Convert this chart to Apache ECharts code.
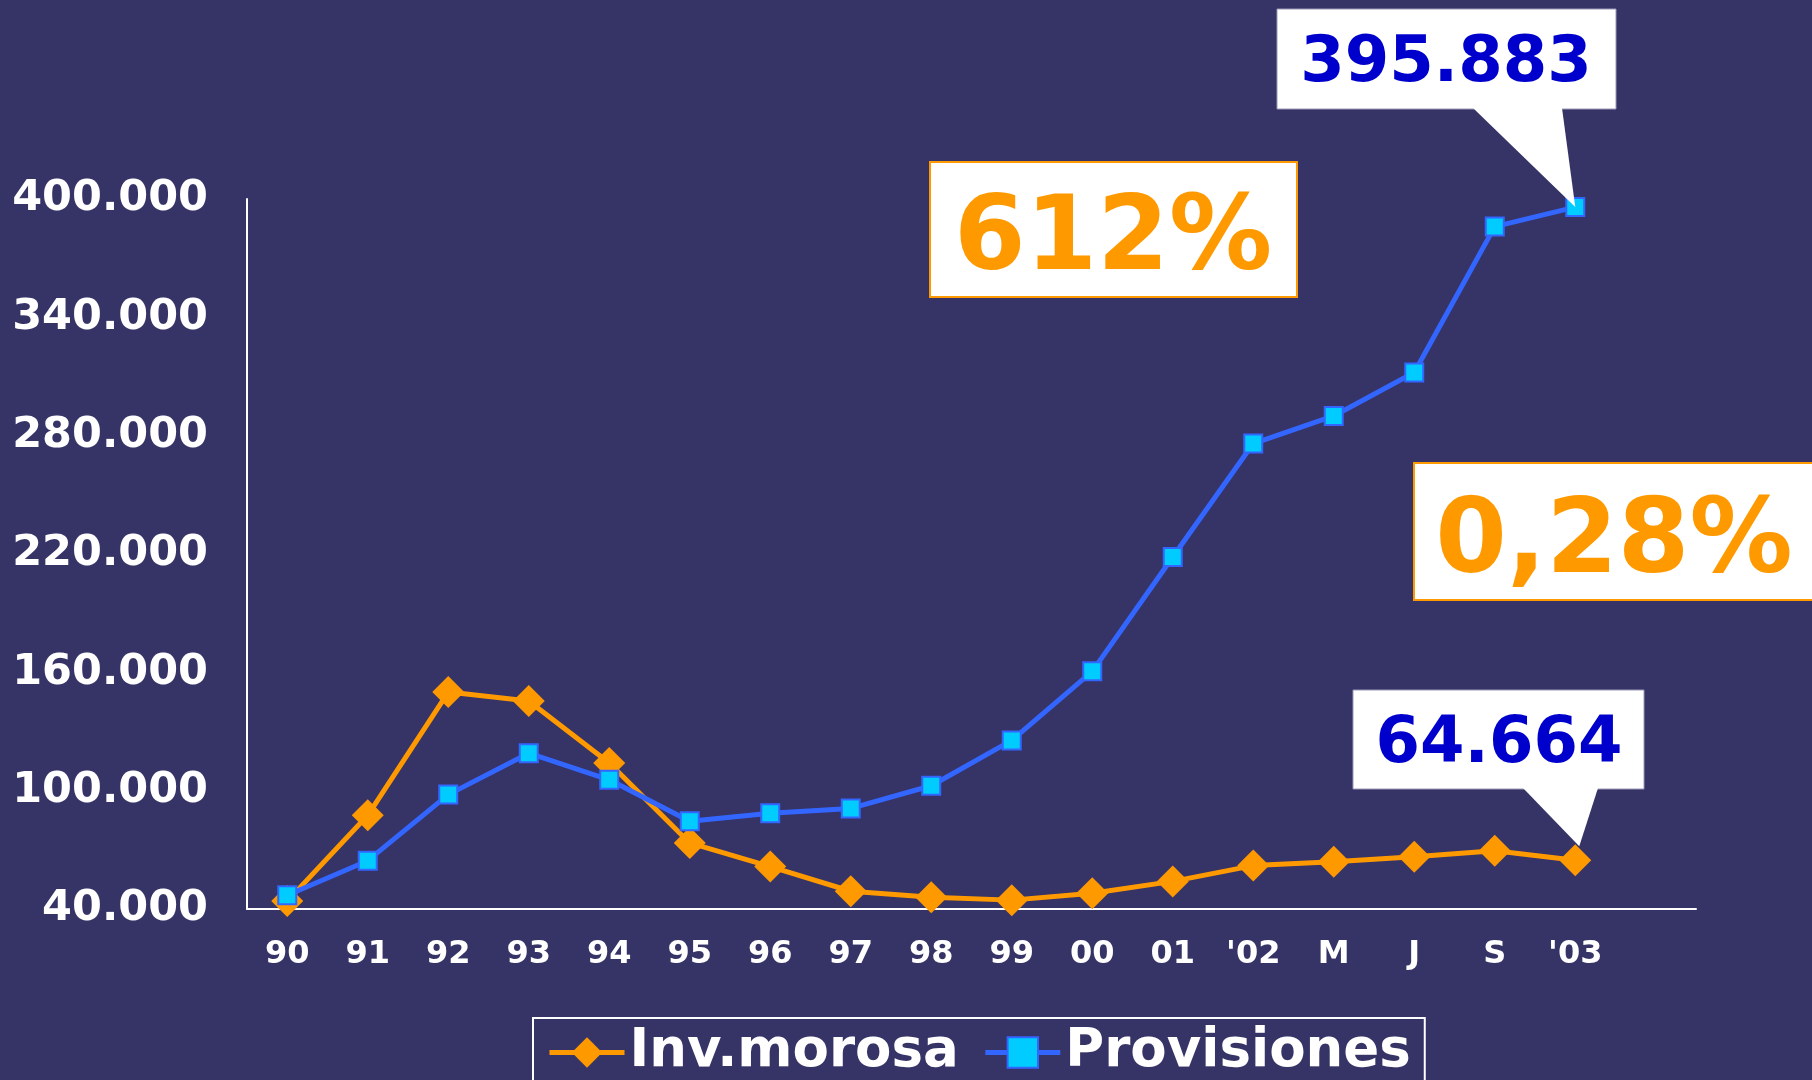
<!DOCTYPE html>
<html>
<head>
<meta charset="utf-8">
<script src="https://cdn.jsdelivr.net/npm/echarts@6/dist/echarts.min.js"></script>
<style>
html, body { margin: 0; padding: 0; background: #363366; }
#chart { width: 1812px; height: 1080px; }
</style>
</head>
<body>
<div id="chart"></div>
<script>
// categories (last one is an empty slot, the axis runs one band past '03)
var categories = ['90', '91', '92', '93', '94', '95', '96', '97', '98', '99', '00', '01', "'02", 'M', 'J', 'S', "'03", ''];
var morosa = [44000, 87500, 150000, 145500, 114000, 73500, 61500, 49000, 46000, 44500, 48000, 54000, 62000, 64000, 66500, 69500, 64664];
var provisiones = [47000, 64500, 98000, 119000, 105500, 84500, 88500, 91000, 102500, 125500, 160500, 218500, 276000, 290000, 312000, 386000, 395883];
var yMin = 40000, yMax = 400000, yStep = 60000;
var seriesNames = ['Inv.morosa', 'Provisiones'];
var calloutTexts = ['395.883', '612%', '0,28%', '64.664'];

var orange = '#FF9900', blue = '#3366FF', cyan = '#00CCFF', navy = '#0000CC';
var font = 'DejaVu Sans';

function fmtThousands(v) {
    return String(v).replace(/\B(?=(\d{3})+(?!\d))/g, '.');
}

var myChart = echarts.init(document.getElementById('chart'));

var option = {
    backgroundColor: '#363366',
    animation: false,
    grid: {
        left: 247,
        right: 116,
        top: 199,
        bottom: 171,
        containLabel: false
    },
    legend: {
        left: 533,
        top: 1018,
        padding: [8, 14, 40, 14],
        borderColor: '#ffffff',
        borderWidth: 2,
        itemWidth: 75,
        itemHeight: 38,
        itemGap: 24,
        lineStyle: { width: 5 },
        textStyle: {
            color: '#ffffff',
            fontSize: 53,
            fontWeight: 'bold',
            fontFamily: font
        },
        data: seriesNames
    },
    xAxis: {
        type: 'category',
        boundaryGap: true,
        data: categories,
        axisLine: { show: true, lineStyle: { color: '#ffffff', width: 2 } },
        axisTick: { show: false },
        splitLine: { show: false },
        axisLabel: {
            interval: 0,
            margin: 30,
            color: '#ffffff',
            fontSize: 32,
            fontWeight: 'bold',
            fontFamily: font
        }
    },
    yAxis: {
        type: 'value',
        min: yMin,
        max: yMax,
        interval: yStep,
        axisLine: { show: true, lineStyle: { color: '#ffffff', width: 2 } },
        axisTick: { show: false },
        splitLine: { show: false },
        axisLabel: {
            margin: 39,
            color: '#ffffff',
            fontSize: 43,
            fontWeight: 'bold',
            fontFamily: font,
            formatter: fmtThousands
        }
    },
    series: [
        {
            name: seriesNames[0],
            type: 'line',
            data: morosa,
            symbol: 'diamond',
            symbolSize: 32,
            lineStyle: { color: orange, width: 5 },
            itemStyle: { color: orange }
        },
        {
            name: seriesNames[1],
            type: 'line',
            data: provisiones,
            symbol: 'rect',
            symbolSize: 18,
            lineStyle: { color: blue, width: 5 },
            itemStyle: { color: cyan, borderColor: blue, borderWidth: 2 }
        }
    ]
};

myChart.setOption(option);

// callouts: pointers aim at the last data points
var last = provisiones.length - 1;
var tipProv = myChart.convertToPixel({ seriesIndex: 1 }, [last, provisiones[last]]);
var tipMor = myChart.convertToPixel({ seriesIndex: 0 }, [last, morosa[last]]);

function box(x, y, w, h, stroke, lw) {
    return {
        type: 'rect', z: 100,
        shape: { x: x, y: y, width: w, height: h },
        style: { fill: '#ffffff', stroke: stroke, lineWidth: lw }
    };
}
function label(x, y, text, size, color) {
    return {
        type: 'text', z: 101,
        x: x, y: y,
        style: {
            text: text, fill: color,
            font: 'bold ' + size + 'px "' + font + '"',
            align: 'center', verticalAlign: 'middle'
        }
    };
}

myChart.setOption({
    graphic: [
        box(1277, 9, 339, 100, '#9a9ab8', 1),
        { type: 'polygon', z: 100, shape: { points: [[1473, 108], [1562, 108], [tipProv[0], tipProv[1]]] }, style: { fill: '#ffffff' } },
        label(1446, 64, calloutTexts[0], 64, navy),

        box(930, 162, 367, 135, orange, 2),
        label(1113, 242, calloutTexts[1], 103, orange),

        box(1414, 463, 420, 137, orange, 2),
        label(1614, 545, calloutTexts[2], 103, orange),

        box(1353, 690, 291, 99, '#9a9ab8', 1),
        { type: 'polygon', z: 100, shape: { points: [[1523, 788], [1598, 788], [tipMor[0] + 4, tipMor[1] - 14]] }, style: { fill: '#ffffff' } },
        label(1499, 745, calloutTexts[3], 64, navy)
    ]
});

window.addEventListener('resize', function () {
    myChart.resize();
});
</script>
</body>
</html>
